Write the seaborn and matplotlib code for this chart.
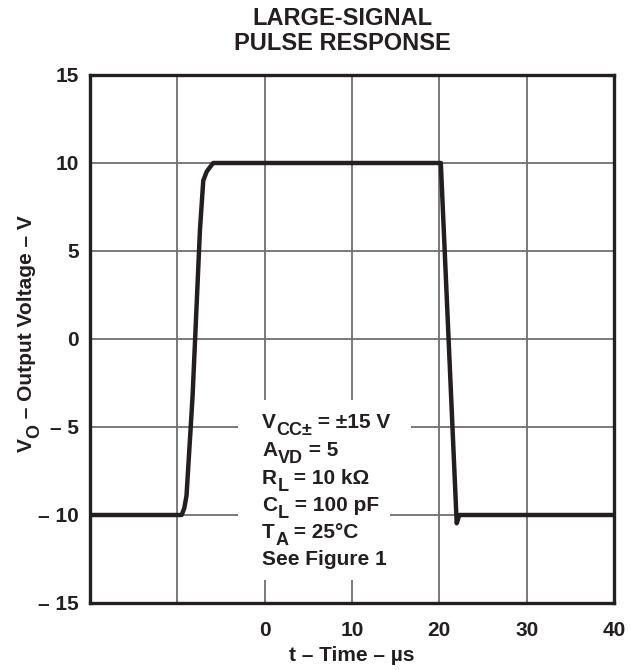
import numpy as np
import pandas as pd
import matplotlib as mpl
import matplotlib.pyplot as plt
from matplotlib.patches import Rectangle
import seaborn as sns

mpl.use('Agg')

# waveform (time in us, output in V)
time_us = [-20.0, -9.5, -9.2, -8.95, -8.48, -8.25, -7.41, -7.03, -6.65, -6.27,
           -5.9, 20.17, 21.99, 22.29, 40.0]
vout = [-10.0, -10.0, -9.6, -8.9, -5.1, -3.2, 6.2, 9.0, 9.5, 9.76,
        10.0, 10.0, -10.47, -10.0, -10.0]

x_ticks = [-20, -10, 0, 10, 20, 30, 40]
x_tick_labels = ['', '', '0', '10', '20', '30', '40']
y_ticks = [-15, -10, -5, 0, 5, 10, 15]
y_tick_labels = ['– 15', '– 10', '– 5', '0', '5', '10', '15']

# (symbol, subscript, rest of line)
conditions = [
    ('V', 'CC±', ' = ±15 V'),
    ('A', 'VD', ' = 5'),
    ('R', 'L', ' = 10 kΩ'),
    ('C', 'L', ' = 100 pF'),
    ('T', 'A', ' = 25°C'),
    ('See Figure 1', '', ''),
]

sns.set_theme(style='white')
plt.rcParams['font.family'] = ['Liberation Sans', 'DejaVu Sans']
plt.rcParams['font.weight'] = 'bold'

ink = '#231f20'
fs = 15
fs_sub = 13

df = pd.DataFrame({'t': time_us, 'v': vout})

fig, ax = plt.subplots(figsize=(6.36, 6.70), dpi=100)
fig.subplots_adjust(left=90 / 636, right=614 / 636, top=1 - 75 / 670, bottom=1 - 603 / 670)

sns.lineplot(x='t', y='v', data=df, sort=False, estimator=None,
             color=ink, linewidth=3.2, ax=ax, zorder=3)

ax.set_xlim(-20, 40)
ax.set_ylim(-15, 15)
ax.set_xticks(x_ticks)
ax.set_xticklabels(x_tick_labels)
ax.set_yticks(y_ticks)
ax.set_yticklabels(y_tick_labels)
ax.tick_params(axis='both', length=0, labelsize=fs, colors=ink)
ax.tick_params(axis='x', pad=13)
ax.tick_params(axis='y', pad=8)

ax.set_axisbelow(True)
ax.grid(True, color='#6f6f6f', linewidth=1.3)
for s in ax.spines.values():
    s.set_color(ink)
    s.set_linewidth(2.4)

ax.set_xlabel('t – Time – µs', fontsize=fs, fontweight='bold', color=ink, labelpad=4)
ax.set_ylabel('')

# y label with a full-size-ish subscript, built in pieces
tv = fig.text(36 / 636, 1 - 452 / 670, 'V', rotation=90, ha='right', va='bottom',
              fontsize=fs, fontweight='bold', color=ink)
to = ax.annotate('O', xy=(1, 1), xycoords=tv, xytext=(5, 0), textcoords='offset points',
                 rotation=90, ha='right', va='bottom', fontsize=fs_sub, fontweight='bold', color=ink,
                 annotation_clip=False)
ax.annotate(' – Output Voltage – V', xy=(1, 1), xycoords=(tv, to), rotation=90,
            ha='right', va='bottom', fontsize=fs, fontweight='bold', color=ink,
            annotation_clip=False)

fig.text(342 / 636, 1 - 31 / 670, 'LARGE-SIGNAL\nPULSE RESPONSE', ha='center', va='center',
         fontsize=17, fontweight='bold', color=ink, linespacing=1.15)

# white block behind the test conditions (hides the grid)
ax.add_patch(Rectangle((-3.05, -13.7), 17.4, 10.23, facecolor='white', edgecolor='none', zorder=1.5))
ax.add_patch(Rectangle((14.0, -5.6), 2.8, 1.2, facecolor='white', edgecolor='none', zorder=1.5))

baselines = [428, 456, 484, 511, 538, 565]
for (sym, sub, rest), yb in zip(conditions, baselines):
    tm = ax.text((262 - 90) / 524, 1 - (yb - 75) / 528, sym, transform=ax.transAxes,
                 ha='left', va='baseline', fontsize=fs, fontweight='bold', color=ink, zorder=2)
    if not sub:
        continue
    ts = ax.annotate(sub, xy=(1, 0), xycoords=tm, xytext=(0.3, -5.3), textcoords='offset points',
                     ha='left', va='bottom', fontsize=fs_sub, fontweight='bold', color=ink,
                     zorder=2, annotation_clip=False)
    ax.annotate(rest, xy=(1, 0), xycoords=(ts, tm), ha='left', va='bottom',
                fontsize=fs, fontweight='bold', color=ink, zorder=2,
                annotation_clip=False)

fig.savefig('out.png', dpi=100)
